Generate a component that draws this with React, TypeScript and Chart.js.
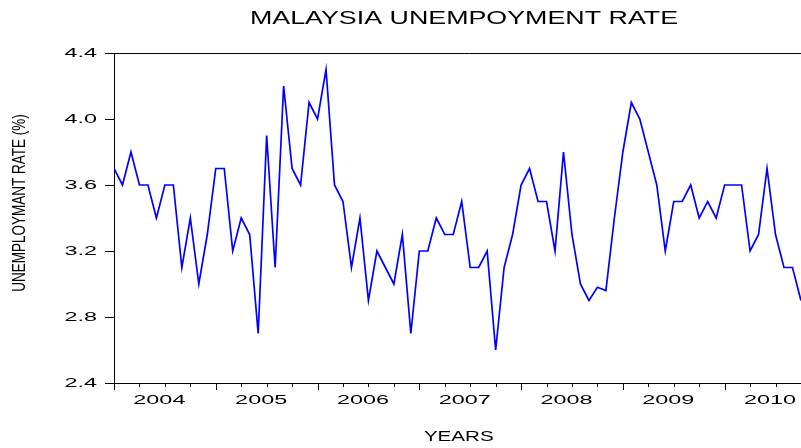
import React, { useEffect, useRef } from 'react';
import { Chart, registerables } from 'chart.js';

Chart.register(...registerables);

// ---- data ----
const years = ['2004', '2005', '2006', '2007', '2008', '2009', '2010'];
const rates2004 = [3.7, 3.6, 3.8, 3.6, 3.6, 3.4, 3.6, 3.6, 3.1, 3.4, 3.0, 3.3];
const rates2005 = [3.7, 3.7, 3.2, 3.4, 3.3, 2.7, 3.9, 3.1, 4.2, 3.7, 3.6, 4.1];
const rates2006 = [4.0, 4.3, 3.6, 3.5, 3.1, 3.4, 2.9, 3.2, 3.1, 3.0, 3.3, 2.7];
const rates2007 = [3.2, 3.2, 3.4, 3.3, 3.3, 3.5, 3.1, 3.1, 3.2, 2.6, 3.1, 3.3];
const rates2008 = [3.6, 3.7, 3.5, 3.5, 3.2, 3.8, 3.3, 3.0, 2.9, 2.98, 2.96, 3.4];
const rates2009 = [3.8, 4.1, 4.0, 3.8, 3.6, 3.2, 3.5, 3.5, 3.6, 3.4, 3.5, 3.4];
const rates2010 = [3.6, 3.6, 3.6, 3.2, 3.3, 3.7, 3.3, 3.1, 3.1, 2.9];
const rates = [
  ...rates2004, ...rates2005, ...rates2006, ...rates2007,
  ...rates2008, ...rates2009, ...rates2010,
];
const yMin = 2.4;
const yMax = 4.4;
const yStep = 0.4;
const chartTitle = 'MALAYSIA UNEMPOYMENT RATE';
const xTitle = 'YEARS';
const yTitle = 'UNEMPLOYMANT RATE (%)';

const FAMILY = '"Liberation Sans", Arial, sans-serif';

// horizontal / vertical glyph stretch per font size (reference text is stretched)
const STRETCH: Record<string, [number, number]> = {
  '13': [1.8, 1],
  '14': [1.47, 1],
  '18': [1.49, 1],
  '13.5': [1.0, 1.3],
};

function patchContext(ctx: CanvasRenderingContext2D) {
  const anyCtx = ctx as any;
  if (anyCtx.__patched) return;
  anyCtx.__patched = true;
  const origFill = ctx.fillText.bind(ctx);
  const factor = (): [number, number] => {
    const m = ctx.font.match(/([\d.]+)px/);
    return (m && STRETCH[m[1]]) || [1, 1];
  };
  anyCtx.fillText = (text: string, x: number, y: number, maxWidth?: number) => {
    const [sx, sy] = factor();
    ctx.save();
    ctx.translate(x, y);
    ctx.scale(sx, sy);
    if (maxWidth === undefined || maxWidth === null) origFill(text, 0, 0);
    else origFill(text, 0, 0, maxWidth / sx);
    ctx.restore();
  };
}

const framePlugin = {
  id: 'frameAndTitle',
  afterDraw(chart: any) {
    const { ctx, chartArea: a } = chart;
    const x = chart.scales.x;
    ctx.save();
    ctx.strokeStyle = '#000';
    ctx.lineWidth = 1;
    ctx.beginPath();
    const top = Math.round(a.top) + 0.5;
    const right = Math.round(a.right) - 0.5;
    ctx.moveTo(a.left, top);
    ctx.lineTo(right, top);
    ctx.lineTo(right, a.bottom);
    for (let m = 0; m <= x.max; m += 3) {
      const px = Math.round(x.getPixelForValue(m)) + 0.5;
      const len = m % 12 === 0 ? 7 : 4;
      ctx.moveTo(px, a.bottom);
      ctx.lineTo(px, a.bottom + len);
    }
    ctx.stroke();
    ctx.font = `18px ${FAMILY}`;
    ctx.fillStyle = '#000';
    ctx.textAlign = 'center';
    ctx.textBaseline = 'middle';
    ctx.fillText(chartTitle, 464, 19);
    ctx.restore();
  },
};

export default function App() {
  const ref = useRef<HTMLCanvasElement | null>(null);

  useEffect(() => {
    const canvas = ref.current;
    if (!canvas) return;
    const ctx = canvas.getContext('2d') as CanvasRenderingContext2D;
    patchContext(ctx);

    const points = rates.map((v, i) => ({ x: i, y: v }));

    const chart = new Chart(ctx, {
      type: 'line',
      data: {
        datasets: [
          {
            data: points,
            borderColor: '#0000FF',
            borderWidth: 1.7,
            pointRadius: 0,
            tension: 0,
            fill: false,
          },
        ],
      },
      options: {
        animation: false,
        responsive: false,
        devicePixelRatio: 1,
        layout: { padding: { top: 53, left: 0, right: 3.6, bottom: 0 } },
        plugins: {
          legend: { display: false },
          title: { display: false },
          tooltip: { enabled: false },
        },
        scales: {
          x: {
            type: 'linear',
            min: 0,
            max: 84,
            offset: false,
            afterFit: (s: any) => {
              s.height = 65;
            },
            afterBuildTicks: (s: any) => {
              s.ticks = years.map((_, k) => ({ value: k * 12 + 5.35 }));
            },
            grid: { display: false, drawTicks: false },
            border: { display: true, color: '#000', width: 1 },
            ticks: {
              autoSkip: false,
              maxRotation: 0,
              minRotation: 0,
              padding: 10,
              color: '#000',
              font: { family: FAMILY, size: 13 },
              callback: (_v: any, i: number) => years[i],
            },
            title: {
              display: true,
              text: xTitle + '    ',
              color: '#000',
              font: { family: FAMILY, size: 14 },
              padding: { top: 0, bottom: 2.6 },
            },
          },
          y: {
            type: 'linear',
            min: yMin,
            max: yMax,
            afterFit: (s: any) => {
              s.width = 114;
            },
            grid: {
              drawOnChartArea: false,
              drawTicks: true,
              tickLength: 9,
              tickColor: '#000',
              color: '#000',
            },
            border: { display: true, color: '#000', width: 1 },
            ticks: {
              stepSize: yStep,
              padding: 8,
              color: '#000',
              font: { family: FAMILY, size: 13 },
              callback: (v: any) => Number(v).toFixed(1),
            },
            title: {
              display: true,
              text: '        ' + yTitle,
              color: '#000',
              font: { family: FAMILY, size: 13.5 },
              padding: { top: 12, bottom: 0 },
            },
          },
        },
      },
      plugins: [framePlugin],
    } as any);

    return () => chart.destroy();
  }, []);

  return (
    <div
      style={{
        position: 'fixed',
        left: 0,
        top: 0,
        width: 801,
        height: 448,
        overflow: 'hidden',
        background: '#fff',
      }}
    >
      <canvas ref={ref} width={830} height={448} style={{ display: 'block' }} />
    </div>
  );
}
